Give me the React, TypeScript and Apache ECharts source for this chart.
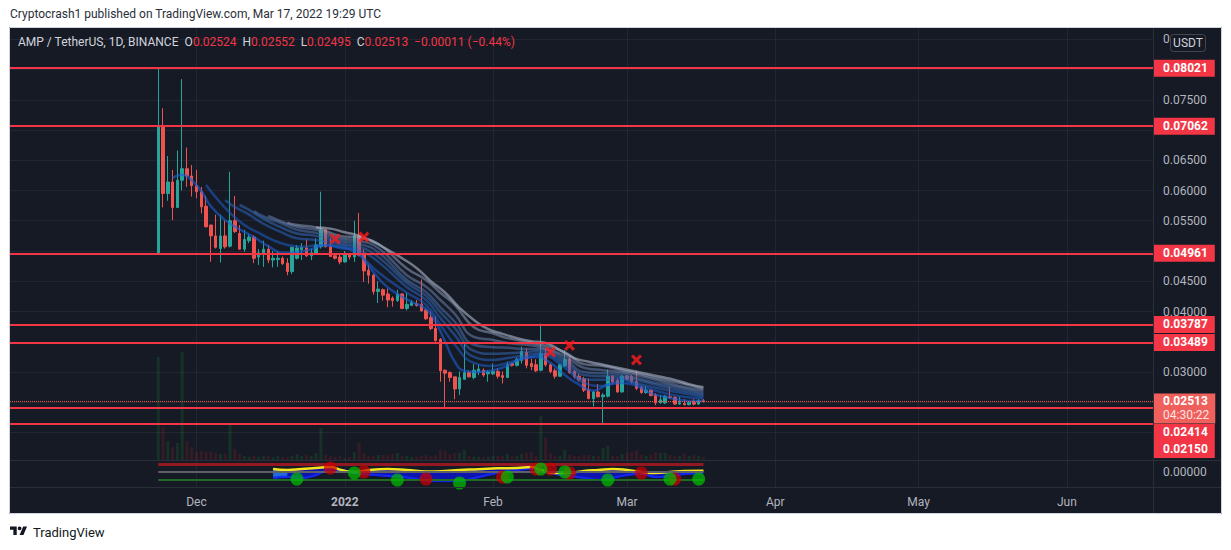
import React, { useEffect, useRef } from "react";
import * as echarts from "echarts";

// ---------- data ----------
const START_DATE_UTC = Date.UTC(2021, 9, 23); // first category: 2021-10-23
const DAY_COUNT = 240;
const FIRST_CANDLE = 31; // 2021-11-23

// [open, high, low, close]
const candles: number[][] = [
  [0.0496, 0.0802, 0.0495, 0.0706],
  [0.0706, 0.0736, 0.0572, 0.0595],
  [0.0595, 0.0657, 0.0583, 0.0614],
  [0.0614, 0.0634, 0.0551, 0.0572],
  [0.0572, 0.0666, 0.0571, 0.0617],
  [0.0617, 0.0784, 0.06, 0.0636],
  [0.0636, 0.0671, 0.0606, 0.0624],
  [0.0624, 0.0642, 0.059, 0.0608],
  [0.0608, 0.0634, 0.0587, 0.0598],
  [0.0598, 0.0606, 0.0562, 0.0573],
  [0.0574, 0.0591, 0.0539, 0.054],
  [0.0543, 0.0543, 0.0482, 0.0525],
  [0.0525, 0.056, 0.0504, 0.0506],
  [0.0504, 0.056, 0.0481, 0.0525],
  [0.0525, 0.055, 0.0504, 0.0507],
  [0.0508, 0.0631, 0.0506, 0.055],
  [0.055, 0.0591, 0.053, 0.0532],
  [0.0529, 0.0543, 0.0502, 0.0503],
  [0.0503, 0.0535, 0.0499, 0.0519],
  [0.0517, 0.0528, 0.0513, 0.0523],
  [0.0523, 0.0526, 0.048, 0.0488],
  [0.049, 0.0503, 0.0477, 0.0497],
  [0.0496, 0.0517, 0.0474, 0.0503],
  [0.0503, 0.051, 0.048, 0.0485],
  [0.0485, 0.05, 0.0473, 0.0488],
  [0.0486, 0.0499, 0.0474, 0.0488],
  [0.0488, 0.0491, 0.0477, 0.0479],
  [0.048, 0.0488, 0.046, 0.0466],
  [0.0466, 0.0507, 0.0462, 0.0506],
  [0.0488, 0.051, 0.0486, 0.0505],
  [0.0502, 0.0513, 0.0485, 0.0506],
  [0.0505, 0.0519, 0.049, 0.0492],
  [0.0492, 0.0504, 0.0485, 0.0497],
  [0.0496, 0.0521, 0.0495, 0.051],
  [0.0507, 0.0598, 0.0504, 0.0535],
  [0.0535, 0.0535, 0.0506, 0.0507],
  [0.0507, 0.0521, 0.049, 0.0491],
  [0.0492, 0.0495, 0.0486, 0.0488],
  [0.049, 0.0496, 0.0478, 0.0482],
  [0.0482, 0.05, 0.0481, 0.0496],
  [0.0495, 0.0496, 0.0486, 0.049],
  [0.049, 0.055, 0.0482, 0.0525],
  [0.0525, 0.0563, 0.0491, 0.0493],
  [0.0493, 0.0503, 0.0449, 0.0467],
  [0.0468, 0.0477, 0.0446, 0.046],
  [0.046, 0.0462, 0.0428, 0.0433],
  [0.0433, 0.045, 0.0414, 0.0437],
  [0.0436, 0.0438, 0.0418, 0.0427],
  [0.0429, 0.0438, 0.0407, 0.0419],
  [0.0422, 0.0425, 0.0408, 0.0418],
  [0.0418, 0.0436, 0.0416, 0.0429],
  [0.0429, 0.043, 0.0404, 0.0405],
  [0.0405, 0.0431, 0.0402, 0.0412],
  [0.041, 0.0419, 0.0409, 0.0415],
  [0.0413, 0.0419, 0.0408, 0.041],
  [0.0412, 0.0453, 0.04, 0.0401],
  [0.0402, 0.0405, 0.0386, 0.0388],
  [0.039, 0.04, 0.0369, 0.0372],
  [0.0372, 0.0392, 0.035, 0.0352],
  [0.0354, 0.0356, 0.0284, 0.0302],
  [0.0303, 0.0304, 0.02414, 0.0298],
  [0.0299, 0.0301, 0.0284, 0.0291],
  [0.0292, 0.0292, 0.0255, 0.0272],
  [0.0272, 0.0301, 0.0262, 0.0291],
  [0.0288, 0.035, 0.0287, 0.0299],
  [0.0299, 0.0302, 0.0291, 0.0292],
  [0.0291, 0.0313, 0.0288, 0.0303],
  [0.0301, 0.0312, 0.0295, 0.0305],
  [0.0303, 0.0306, 0.0292, 0.0295],
  [0.0297, 0.0303, 0.0284, 0.03],
  [0.0297, 0.0314, 0.0295, 0.0301],
  [0.0301, 0.0306, 0.0289, 0.0293],
  [0.0294, 0.0301, 0.0281, 0.0291],
  [0.0291, 0.0317, 0.029, 0.0312],
  [0.0314, 0.0315, 0.0309, 0.0311],
  [0.0311, 0.0324, 0.0309, 0.0321],
  [0.0319, 0.0342, 0.0314, 0.0334],
  [0.0332, 0.0339, 0.0306, 0.0311],
  [0.0314, 0.0322, 0.0303, 0.0309],
  [0.0312, 0.0321, 0.03, 0.0302],
  [0.0303, 0.038, 0.0301, 0.0331],
  [0.0331, 0.0339, 0.0309, 0.0312],
  [0.0312, 0.0314, 0.0298, 0.0301],
  [0.0302, 0.0306, 0.0289, 0.0293],
  [0.0293, 0.0314, 0.0292, 0.0312],
  [0.031, 0.0336, 0.0308, 0.0321],
  [0.0321, 0.0325, 0.0297, 0.0299],
  [0.0301, 0.0303, 0.0289, 0.0292],
  [0.0293, 0.0297, 0.0284, 0.0287],
  [0.0289, 0.0292, 0.0267, 0.027],
  [0.0271, 0.0289, 0.0255, 0.0256],
  [0.0256, 0.0269, 0.0243, 0.0267],
  [0.0267, 0.028, 0.0258, 0.0259],
  [0.0259, 0.0265, 0.0215, 0.0262],
  [0.026, 0.0304, 0.0258, 0.0293],
  [0.0293, 0.0295, 0.0281, 0.0284],
  [0.0286, 0.0289, 0.0266, 0.0267],
  [0.0267, 0.0295, 0.0266, 0.0293],
  [0.0293, 0.0295, 0.0286, 0.0288],
  [0.0292, 0.0295, 0.0281, 0.0284],
  [0.0284, 0.0302, 0.027, 0.0273],
  [0.0275, 0.0277, 0.0264, 0.0266],
  [0.0266, 0.0277, 0.0264, 0.027],
  [0.027, 0.0271, 0.026, 0.0261],
  [0.0262, 0.0265, 0.0245, 0.0249],
  [0.0249, 0.0262, 0.0248, 0.0254],
  [0.0249, 0.0262, 0.0247, 0.026],
  [0.0259, 0.0275, 0.0256, 0.0258],
  [0.0258, 0.026, 0.0246, 0.0247],
  [0.0247, 0.0259, 0.0246, 0.0249],
  [0.0248, 0.0255, 0.0245, 0.0246],
  [0.0246, 0.0251, 0.0245, 0.025],
  [0.025, 0.0255, 0.0245, 0.0247],
  [0.0247, 0.0255, 0.0246, 0.02524],
  [0.02524, 0.02552, 0.02495, 0.02513],
];

const volumes: number[] = [
  1030, 330, 190, 130, 170, 1080, 190, 130, 80, 90, 80, 80, 70, 60, 60, 370, 110, 60, 40, 33,
  40, 33, 40, 40, 30, 40, 30, 30, 40, 60, 40, 50, 40, 70, 320, 50, 40, 30, 40, 20,
  30, 80, 170, 70, 40, 40, 50, 50, 50, 60, 70, 40, 40, 30, 30, 40, 50, 40, 50, 100,
  90, 60, 70, 70, 100, 40, 33, 33, 33, 33, 40, 40, 40, 60, 40, 40, 60, 70, 80, 40,
  440, 220, 70, 40, 40, 100, 50, 40, 40, 50, 50, 40, 40, 120, 140, 40, 40, 60, 70, 80,
  100, 50, 40, 50, 80, 70, 70, 50, 40, 40, 70, 40, 50, 40, 30,
];

const supportLevels = [0.08021, 0.07062, 0.04961, 0.03787, 0.03489, 0.02414, 0.0215];
const levelLabelShift = [0, 0, 0, 0, 0, 25, 26];
const lastPrice = 0.02513;
const countdown = "04:30:22";
// price-scale tick labels that sit under the red level boxes (not shown in the reference)
const hiddenPriceTicks = [0.08, 0.07, 0.05, 0.035, 0.025, 0.02];

const monthTicks: [string, string][] = [
  ["2021-12-01", "Dec"],
  ["2022-01-01", "2022"],
  ["2022-02-01", "Feb"],
  ["2022-03-01", "Mar"],
  ["2022-04-01", "Apr"],
  ["2022-05-01", "May"],
  ["2022-06-01", "Jun"],
];

// EMA ribbon: [candle index, price]
const ribbon1 = [[3, 0.0621], [5, 0.0626], [7, 0.0617], [9, 0.0599], [11, 0.0574], [14, 0.0551], [17, 0.0536], [20, 0.0523], [23, 0.0508], [26, 0.0497], [29, 0.0498], [32, 0.0503], [35, 0.051], [38, 0.0505], [41, 0.0502], [44, 0.0475], [47, 0.0447], [50, 0.0429], [53, 0.0416], [56, 0.0404], [58, 0.0383], [60, 0.035], [62, 0.0317], [64, 0.0302], [67, 0.03], [70, 0.0303], [73, 0.031], [76, 0.0323], [79, 0.0325], [82, 0.0315], [85, 0.0295], [88, 0.0279], [91, 0.0269], [94, 0.0279], [97, 0.0282], [100, 0.0277], [103, 0.0265], [106, 0.0259], [109, 0.0254], [112, 0.0252], [114, 0.0252]];
const ribbon2 = [[10, 0.0609], [12, 0.0589], [15, 0.0563], [18, 0.0543], [21, 0.053], [24, 0.0518], [27, 0.051], [30, 0.0507], [34, 0.051], [38, 0.0507], [42, 0.0493], [46, 0.0465], [52, 0.0431], [56, 0.0411], [59, 0.0378], [62, 0.0345], [66, 0.0315], [70, 0.031], [73, 0.0315], [77, 0.0323], [80, 0.0328], [85, 0.0307], [89, 0.0282], [93, 0.0277], [97, 0.0287], [100, 0.028], [104, 0.0269], [109, 0.026], [114, 0.0256]];
const ribbon3 = [[14, 0.0584], [16, 0.0573], [19, 0.056], [22, 0.0545], [26, 0.053], [29, 0.0521], [33, 0.0518], [38, 0.051], [42, 0.0502], [46, 0.0482], [52, 0.044], [56, 0.0419], [59, 0.0389], [62, 0.0361], [66, 0.0325], [70, 0.032], [73, 0.0323], [77, 0.0328], [80, 0.0331], [85, 0.0312], [89, 0.0288], [93, 0.0287], [97, 0.029], [100, 0.0282], [104, 0.0274], [109, 0.0266], [114, 0.0259]];
const ribbon4 = [[17, 0.0576], [19, 0.0568], [22, 0.0553], [26, 0.0538], [29, 0.0529], [33, 0.0525], [38, 0.0513], [42, 0.0507], [46, 0.049], [52, 0.0447], [56, 0.0426], [59, 0.0399], [62, 0.0373], [66, 0.0335], [70, 0.033], [73, 0.0331], [77, 0.0333], [80, 0.0335], [85, 0.0317], [89, 0.0295], [93, 0.0293], [97, 0.0293], [100, 0.0287], [104, 0.0279], [109, 0.027], [114, 0.0262]];
const ribbon5 = [[20, 0.0566], [22, 0.0557], [26, 0.0545], [29, 0.0535], [33, 0.053], [38, 0.0517], [42, 0.0512], [46, 0.0498], [52, 0.0452], [56, 0.0432], [59, 0.0407], [62, 0.0383], [66, 0.0345], [70, 0.0341], [73, 0.034], [77, 0.0338], [80, 0.0338], [85, 0.0322], [89, 0.03], [93, 0.0298], [97, 0.0297], [100, 0.029], [104, 0.0282], [109, 0.0274], [114, 0.0265]];
const ribbon6 = [[23, 0.0558], [26, 0.0548], [29, 0.054], [33, 0.0535], [38, 0.0521], [42, 0.0517], [46, 0.0505], [52, 0.046], [56, 0.0441], [59, 0.0419], [62, 0.0396], [66, 0.0358], [70, 0.0353], [73, 0.0348], [77, 0.0345], [80, 0.0341], [85, 0.0327], [89, 0.0307], [93, 0.0303], [97, 0.03], [100, 0.0295], [104, 0.0287], [109, 0.0277], [114, 0.0269]];
const ribbon7 = [[27, 0.0547], [29, 0.0543], [33, 0.0539], [38, 0.0525], [42, 0.0522], [46, 0.0512], [52, 0.0471], [56, 0.0452], [59, 0.0431], [62, 0.0411], [66, 0.0374], [70, 0.0364], [73, 0.0356], [77, 0.035], [80, 0.0345], [85, 0.0333], [89, 0.0313], [93, 0.031], [97, 0.0303], [100, 0.0298], [104, 0.029], [109, 0.0282], [114, 0.0272]];
const ribbon8 = [[33, 0.0539], [36, 0.0537], [39, 0.0531], [42, 0.0525], [45, 0.0515], [48, 0.0502], [51, 0.0488], [54, 0.0472], [57, 0.045], [60, 0.0431], [63, 0.0406], [66, 0.0386], [69, 0.0371], [72, 0.0363], [75, 0.0356], [78, 0.0351], [81, 0.0348], [84, 0.0336], [87, 0.0323], [90, 0.0317], [93, 0.0312], [96, 0.0307], [99, 0.0302], [102, 0.0297], [105, 0.0292], [108, 0.0287], [111, 0.028], [114, 0.0275]];
const ribbons = [ribbon1, ribbon2, ribbon3, ribbon4, ribbon5, ribbon6, ribbon7, ribbon8];
const ribbonColors = [
  "rgba(25,95,215,0.6)",
  "rgba(30,95,200,0.55)",
  "rgba(40,100,190,0.55)",
  "rgba(55,105,180,0.55)",
  "rgba(75,115,175,0.55)",
  "rgba(105,130,175,0.55)",
  "rgba(140,155,185,0.55)",
  "rgba(175,185,205,0.6)",
];

// red crosses: [candle index, price]
const crossMarks = [[37, 0.052], [43, 0.0523], [82, 0.0333], [86, 0.0344], [100, 0.032]];

// lower oscillator pane
const oscLevels = [1, 0, -1];
const oscLevelColors = ["rgba(170,25,30,0.85)", "#5d606b", "#1f6b24"];
const oscLevelWidths = [3, 2, 2];
const waveK = [24, 27, 30, 33, 36, 38, 41, 44, 48, 52, 56, 60, 63, 67, 71, 75, 78, 80, 83, 86, 89, 92, 95, 98, 101, 104, 107, 110, 114];
const waveUpper = [0.375, 0.25, 0.375, 0.5, 0.625, 0.3, 0, 0.25, 0.375, 0.25, 0.06, 0.125, 0.25, 0.34, 0.46, 0.5, 0.625, 0.25, -0.125, -0.09, 0.125, 0.25, 0.375, 0.25, 0, -0.125, 0, 0.125, 0.16];
const waveLower = [-0.75, -0.625, -0.75, -0.375, 0.3, 0.25, -0.125, -0.3, -0.5, -0.7, -1.06, -1.125, -1.125, -0.625, -0.125, 0.25, 0.375, 0.125, -0.25, -0.5, -0.75, -1, -0.75, -0.375, -0.25, -0.625, -0.5, -0.25, -0.16];
// light-blue block at the start of the wave: [candle index, top, bottom]
const waveStartBlock = [[24, 0.375, -0.75], [27, 0.25, -0.75]];
const redDots = [[36, 0.5], [43, 0], [56, -0.875], [72, -0.625], [79, 0.375], [82, 0.375], [86, -0.125], [101, -0.125], [108, -0.875]];
const greenDots = [[29, -0.875], [41, -0.125], [50, -1], [63, -1.375], [73, -0.625], [80, 0.375], [85, 0], [94, -1], [107, -0.875], [113, -0.875]];

// ---------- helpers ----------
const FONT = "Roboto, 'Noto Sans', sans-serif";
const UP = "#26a69a";
const DOWN = "#ef5350";
const GRID_LINE = "#232632";
const SEP = "#2a2e39";

const TV_LOGO =
  "M14 22H7V11H0V4h14v18zM28 22h-8l7.5-18h8L28 22zM20 12a4 4 0 1 0 0-8a4 4 0 0 0 0 8z";
let logoRegistered = false;
function registerLogo() {
  if (logoRegistered) return;
  echarts.graphic.registerShape("tvlogo", echarts.graphic.extendPath(TV_LOGO, {}) as any);
  logoRegistered = true;
}

function buildDates(): string[] {
  const out: string[] = [];
  for (let i = 0; i < DAY_COUNT; i++) {
    out.push(new Date(START_DATE_UTC + i * 86400000).toISOString().slice(0, 10));
  }
  return out;
}

function fmtMinus(v: number, digits: number) {
  const s = Math.abs(v).toFixed(digits);
  return (v < 0 ? "\u2212" : "") + s;
}

export default function App() {
  const ref = useRef<HTMLDivElement>(null);

  useEffect(() => {
    if (!ref.current) return;
    registerLogo();
    const chart = echarts.init(ref.current, null, { renderer: "svg" });
    const dates = buildDates();
    const tickMap: Record<string, string> = {};
    monthTicks.forEach(([d, l]) => (tickMap[d] = l));
    const isTick = (_i: number, v: string) => tickMap[v] !== undefined;
    const at = (k: number) => dates[FIRST_CANDLE + k];

    const candleData = dates.map((_, j) => {
      const k = j - FIRST_CANDLE;
      if (k < 0 || k >= candles.length) return "-";
      const [o, h, l, c] = candles[k];
      return [o, c, l, h];
    });
    const volumeData = dates.map((_, j) => {
      const k = j - FIRST_CANDLE;
      if (k < 0 || k >= volumes.length) return "-";
      const [o, , , c] = candles[k];
      return {
        value: volumes[k],
        itemStyle: { color: c >= o ? "rgba(30,140,55,0.2)" : "rgba(180,35,45,0.2)" },
      };
    });

    const last = candles[candles.length - 1];
    const prevClose = candles[candles.length - 2][3];
    const chg = last[3] - prevClose;
    const pct = (chg / prevClose) * 100;

    const levelMarks: any[] = supportLevels.map((lv, i) => ({
      yAxis: lv,
      lineStyle: { color: "#f23645", width: 2, type: "solid" },
      label: {
        show: true,
        position: "end",
        distance: 0,
        offset: [0, levelLabelShift[i]],
        formatter: lv.toFixed(5),
        color: "#ffffff",
        backgroundColor: "#f23645",
        padding: [3, 7, 2, 10],
        fontWeight: "bold",
        fontSize: 12,
        fontFamily: FONT,
      },
    }));
    levelMarks.push({
      yAxis: lastPrice,
      lineStyle: { color: DOWN, width: 1, type: "dotted" },
      label: {
        show: true,
        position: "end",
        distance: 0,
        offset: [0, 7],
        formatter: `{a|${lastPrice.toFixed(5)}}\n{b|${countdown}}`,
        backgroundColor: "#ef5f5b",
        padding: [1, 6, 1, 10],
        rich: {
          a: { color: "#ffffff", fontWeight: "bold", fontSize: 12, lineHeight: 14, fontFamily: FONT },
          b: { color: "#ffe4e4", fontSize: 12, lineHeight: 14, fontFamily: FONT },
        },
      },
    });

    const ribbonSeries = ribbons.map((r, i) => ({
      type: "line",
      xAxisIndex: 0,
      yAxisIndex: 0,
      data: r.map(([k, p]) => [at(k), p]),
      smooth: true,
      showSymbol: false,
      silent: true,
      z: 4,
      lineStyle: { color: ribbonColors[i], width: 2.5 },
    }));

    const priceLabel = (v: number) => {
      if (hiddenPriceTicks.some((h) => Math.abs(h - v) < 1e-7)) return "";
      // the top label (0.08500) sits behind the USDT badge: only its leading "0" shows
      if (v > 0.0849) return "0";
      return v.toFixed(5);
    };

    const option: any = {
      animation: false,
      backgroundColor: "#161a25",
      grid: [
        { left: 10, right: 78, top: 24.125, bottom: 87.25 },
        { left: 10, right: 78, top: 350, bottom: 90 },
        { left: 10, right: 78, top: 460, bottom: 63 },
      ],
      xAxis: [
        {
          type: "category",
          gridIndex: 0,
          data: dates,
          boundaryGap: false,
          axisLine: { show: false },
          axisTick: { show: false },
          axisLabel: { show: false },
          splitLine: { show: true, interval: isTick, lineStyle: { color: GRID_LINE } },
        },
        {
          type: "category",
          gridIndex: 1,
          data: dates,
          boundaryGap: false,
          show: false,
        },
        {
          type: "category",
          gridIndex: 2,
          data: dates,
          boundaryGap: false,
          axisLine: { show: false },
          axisTick: { show: false },
          splitLine: { show: true, interval: isTick, lineStyle: { color: GRID_LINE } },
          axisLabel: {
            interval: isTick,
            margin: 9,
            color: "#b2b5be",
            fontSize: 12,
            fontFamily: FONT,
            formatter: (v: string) => (tickMap[v] === "2022" ? "{y|2022}" : tickMap[v] || ""),
            rich: { y: { fontWeight: "bold", color: "#b2b5be", fontSize: 12, fontFamily: FONT } },
          },
        },
      ],
      yAxis: [
        {
          type: "value",
          gridIndex: 0,
          position: "right",
          min: 0.015,
          max: 0.0875,
          interval: 0.005,
          axisLine: { show: false },
          axisTick: { show: false },
          axisLabel: {
            color: "#b2b5be",
            fontSize: 12,
            fontFamily: FONT,
            margin: 10,
            showMinLabel: false,
            showMaxLabel: false,
            formatter: priceLabel,
          },
          splitLine: { show: true, showMinLine: false, showMaxLine: false, lineStyle: { color: GRID_LINE } },
        },
        { type: "value", gridIndex: 1, min: 0, max: 1100, show: false },
        {
          type: "value",
          gridIndex: 2,
          position: "right",
          min: -1.875,
          max: 1.5,
          interval: 0.375,
          axisLine: { show: false },
          axisTick: { show: false },
          splitLine: { show: false },
          axisLabel: {
            color: "#b2b5be",
            fontSize: 12,
            fontFamily: FONT,
            margin: 10,
            showMinLabel: false,
            showMaxLabel: false,
            formatter: (v: number) => (Math.abs(v) < 1e-9 ? "0.00000" : ""),
          },
        },
      ],
      series: [
        {
          type: "bar",
          xAxisIndex: 1,
          yAxisIndex: 1,
          data: volumeData,
          barWidth: 3,
          silent: true,
          z: 1,
        },
        {
          type: "candlestick",
          xAxisIndex: 0,
          yAxisIndex: 0,
          data: candleData,
          barWidth: 3,
          clip: false,
          z: 3,
          itemStyle: { color: UP, color0: DOWN, borderColor: UP, borderColor0: DOWN, borderWidth: 1 },
          markLine: {
            silent: true,
            symbol: ["none", "none"],
            animation: false,
            precision: 6,
            data: levelMarks,
          },
        },
        ...ribbonSeries,
        {
          type: "scatter",
          xAxisIndex: 0,
          yAxisIndex: 0,
          data: crossMarks.map(([k, p]) => [at(k), p]),
          symbol: "path://M2,0L5,3L8,0L10,2L7,5L10,8L8,10L5,7L2,10L0,8L3,5L0,2Z",
          symbolSize: 11,
          itemStyle: { color: "#ff1a1a" },
          silent: true,
          z: 6,
        },
        {
          type: "line",
          xAxisIndex: 2,
          yAxisIndex: 2,
          stack: "wave",
          stackStrategy: "all",
          data: waveK.map((k, i) => [at(k), waveLower[i]]),
          smooth: true,
          showSymbol: false,
          silent: true,
          lineStyle: { width: 3, color: "rgba(0,0,0,0.85)" },
          z: 2,
          markLine: {
            silent: true,
            symbol: ["none", "none"],
            animation: false,
            precision: 6,
            label: { show: false },
            data: oscLevels.map((lv, i) => [
              { coord: [at(0), lv], lineStyle: { color: oscLevelColors[i], width: oscLevelWidths[i], type: "solid" } },
              { coord: [at(candles.length - 1), lv] },
            ]),
          },
        },
        {
          type: "line",
          xAxisIndex: 2,
          yAxisIndex: 2,
          stack: "wave",
          stackStrategy: "all",
          data: waveK.map((k, i) => [at(k), waveUpper[i] - waveLower[i]]),
          smooth: true,
          showSymbol: false,
          silent: true,
          lineStyle: { width: 0 },
          areaStyle: { color: "rgba(10,20,245,0.95)" },
          z: 3,
        },
        {
          type: "line",
          xAxisIndex: 2,
          yAxisIndex: 2,
          data: waveK.map((k, i) => [at(k), waveLower[i]]),
          smooth: true,
          showSymbol: false,
          silent: true,
          lineStyle: { width: 2.5, color: "rgba(20,40,240,0.95)" },
          z: 3,
        },
        {
          type: "line",
          xAxisIndex: 2,
          yAxisIndex: 2,
          data: waveStartBlock.map(([k, top]) => [at(k), top]),
          showSymbol: false,
          silent: true,
          lineStyle: { width: 0 },
          areaStyle: { color: "rgba(40,150,240,0.95)", origin: -0.75 },
          z: 3,
        },
        {
          type: "line",
          xAxisIndex: 2,
          yAxisIndex: 2,
          data: waveK.map((k, i) => [at(k), waveUpper[i]]),
          smooth: true,
          showSymbol: false,
          silent: true,
          lineStyle: { width: 2.5, color: "#f5e61a" },
          z: 4,
        },
        {
          type: "scatter",
          xAxisIndex: 2,
          yAxisIndex: 2,
          data: redDots.map(([k, v]) => [at(k), v]),
          symbolSize: 13,
          itemStyle: { color: "rgba(205,0,0,0.9)" },
          silent: true,
          z: 5,
        },
        {
          type: "scatter",
          xAxisIndex: 2,
          yAxisIndex: 2,
          data: greenDots.map(([k, v]) => [at(k), v]),
          symbolSize: 13,
          itemStyle: { color: "rgba(0,190,0,0.9)" },
          silent: true,
          z: 5,
        },
      ],
      graphic: [
        { type: "rect", silent: true, z: 100, shape: { x: 0, y: 0, width: 1231, height: 27 }, style: { fill: "#ffffff" } },
        { type: "rect", silent: true, z: 100, shape: { x: 0, y: 514, width: 1231, height: 36 }, style: { fill: "#ffffff" } },
        { type: "rect", silent: true, z: 100, shape: { x: 0, y: 0, width: 9, height: 550 }, style: { fill: "#ffffff" } },
        { type: "rect", silent: true, z: 100, shape: { x: 1222, y: 0, width: 9, height: 550 }, style: { fill: "#ffffff" } },
        { type: "rect", silent: true, z: 101, shape: { x: 9.5, y: 27.5, width: 1212, height: 486 }, style: { fill: "none", stroke: "#d1d4dc", lineWidth: 1 } },
        { type: "line", silent: true, z: 90, shape: { x1: 10, y1: 460.5, x2: 1222, y2: 460.5 }, style: { stroke: SEP, lineWidth: 1 } },
        { type: "line", silent: true, z: 90, shape: { x1: 10, y1: 487.5, x2: 1222, y2: 487.5 }, style: { stroke: SEP, lineWidth: 1 } },
        { type: "line", silent: true, z: 90, shape: { x1: 1153.5, y1: 28, x2: 1153.5, y2: 514 }, style: { stroke: SEP, lineWidth: 1 } },
        { type: "rect", silent: true, z: 91, shape: { x: 1170.5, y: 34.5, width: 35, height: 17, r: 3 }, style: { fill: "#161a25", stroke: "#434651", lineWidth: 1 } },
        { type: "text", silent: true, z: 92, x: 1188, y: 43, style: { text: "USDT", fill: "#d1d4dc", font: `12px ${FONT}`, align: "center", verticalAlign: "middle" } },
        {
          type: "text",
          silent: true,
          z: 92,
          x: 18,
          y: 42,
          style: {
            text:
              `{w|AMP / TetherUS, 1D, BINANCE  O}{r|${last[0].toFixed(5)}}{w|  H}{r|${last[1].toFixed(5)}}` +
              `{w|  L}{r|${last[2].toFixed(5)}}{w|  C}{r|${last[3].toFixed(5)}  ${fmtMinus(chg, 5)} (${fmtMinus(pct, 2)}%)}`,
            verticalAlign: "middle",
            rich: {
              w: { fill: "#d1d4dc", font: `12px ${FONT}` },
              r: { fill: "#f23645", font: `12px ${FONT}` },
            },
          },
        },
        {
          type: "text",
          silent: true,
          z: 102,
          x: 10,
          y: 14,
          style: { text: "Cryptocrash1 published on TradingView.com, Mar 17, 2022 19:29 UTC", fill: "#2a2e39", font: `12px ${FONT}`, verticalAlign: "middle" },
        },
        { type: "tvlogo", silent: true, z: 102, x: 10, y: 524.5, scaleX: 0.48, scaleY: 0.48, style: { fill: "#131722" } },
        { type: "text", silent: true, z: 102, x: 33, y: 532, style: { text: "TradingView", fill: "#131722", font: `13px ${FONT}`, verticalAlign: "middle" } },
      ],
    };

    chart.setOption(option);
    return () => chart.dispose();
  }, []);

  return <div ref={ref} style={{ position: "fixed", left: 0, top: 0, width: 1231, height: 550 }} />;
}
